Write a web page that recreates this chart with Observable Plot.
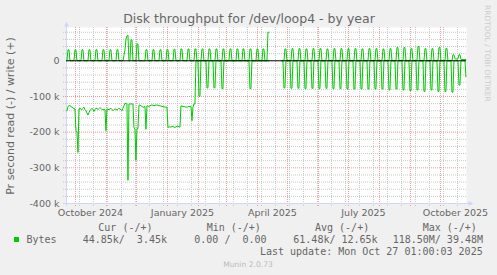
<!DOCTYPE html>
<html>
<head>
<meta charset="utf-8">
<script src="https://cdn.jsdelivr.net/npm/d3@7"></script>
<script src="https://cdn.jsdelivr.net/npm/@observablehq/plot@0.6"></script>
<style>
  html, body { margin: 0; padding: 0; background: #f0f0f0; }
  #wrap { position: relative; width: 497px; height: 275px; background: #f0f0f0; overflow: hidden; }
  #wrap > svg { position: absolute; left: 0; top: 0; }
</style>
</head>
<body>
<div id="wrap"></div>
<script>
// ---- data (daily values, kB/s) ----
const firstDay = "2024-09-22T12:00:00Z";          // day 0
const domainStart = "2024-09-22T01:00:00Z";
const domainEnd = "2025-10-27T01:00:00Z";

// write (+), one value per day, null = no data
const writeK = [
  0,31,31,0,0,0,0,
  0,31,31,0,0,0,0,
  0,31,31,0,0,0,0,
  0,31,31,0,0,0,0,
  0,31,31,0,0,0,0,
  0,31,31,0,0,0,0,
  0,31,31,0,0,0,0,
  0,31,31,0,0,0,0,
  0,15,30,61,70,72,0,
  0,59,59,0,0,0,0,
  47,47,0,0,0,0,0,
  0,0,31,31,0,0,0,
  0,0,31,31,0,0,0,
  0,0,31,31,0,0,0,
  0,0,32,32,0,0,0,
  0,0,32,32,0,0,0,
  0,0,33,33,0,0,0,
  0,0,33,33,0,0,0,
  0,0,33,33,0,0,0,
  0,0,33,33,0,0,0,
  0,0,33,33,0,0,0,
  0,0,33,33,0,0,0,
  0,0,33,33,0,0,0,
  0,0,33,33,0,0,0,
  0,0,33,33,0,0,0,
  0,33,33,0,0,0,0,
  0,33,33,0,0,0,0,
  0,33,33,0,0,0,0,
  33,33,0,0,0,80,80,
  null,null,null,null,null,null,null,
  null,null,null,null,null,0,0,
  0,33,33,0,0,0,0,
  0,34,34,0,0,0,0,
  0,34,34,0,0,0,0,
  0,33,33,0,0,0,0,
  0,34,34,0,0,0,0,
  0,34,34,0,0,0,0,
  0,33,33,0,0,0,0,
  0,34,34,0,0,0,0,
  0,34,34,0,0,0,0,
  0,34,34,0,0,0,0,
  0,34,34,0,0,0,0,
  0,33,33,0,0,0,0,
  0,34,34,0,0,0,0,
  0,34,34,0,0,0,0,
  0,33,33,0,0,0,0,
  0,34,34,0,0,0,0,
  0,37,37,0,0,0,0,
  0,37,37,0,0,0,0,
  0,34,34,0,0,0,0,
  0,40,40,0,0,0,0,
  0,34,34,0,0,0,0,
  0,34,34,0,0,0,0,
  0,37,37,0,0,0,0,
  0,35,35,0,0,0,0,
  0,17,17,6,5,5,6,
  17,17,4,3.5,3.5,3.5,3.5,
  3.45
];

// read (-), one value per day (magnitude), null = no data
const readK = [
  140,128,126,126,128,130,132,
  134,135,196,200,257,135,133,
  135,137,133,130,137,140,146,
  152,145,140,136,133,137,142,
  137,133,133,137,134,131,134,
  137,137,137,137,196,135,136,
  137,135,133,136,140,137,135,
  136,138,136,133,135,137,140,
  133,126,119,120,121,335,121,
  121,121,121,121,188,192,279,
  190,190,125,124,126,128,130,
  130,128,192,126,127,128,126,
  125,124,125,126,125,124,124,
  125,126,126,127,128,128,129,
  130,130,130,186,186,185,186,
  184,184,186,187,185,184,183,
  185,186,126,127,128,128,129,
  130,130,129,128,128,128,168,
  130,121,121,0,0,0,100,
  100,0,0,0,0,0,0,
  76,76,0,0,0,0,0,
  76,76,0,0,0,0,0,
  0,78,78,0,0,0,0,
  0,0,0,0,0,0,0,
  0,0,0,0,0,0,0,
  0,0,0,0,0,0,0,
  0,78,78,0,0,0,0,
  0,0,0,0,0,0,0,
  0,0,0,0,0,0,0,
  null,null,null,null,null,null,null,
  null,null,null,null,null,0,0,
  76,76,0,0,0,0,0,
  77,77,0,0,0,0,0,
  77,77,0,0,0,0,0,
  78,78,0,0,0,0,0,
  77,77,0,0,0,0,0,
  78,78,0,0,0,0,0,
  77,77,0,0,0,0,0,
  78,78,0,0,0,0,0,
  78,78,0,0,0,0,0,
  79,79,0,0,0,0,0,
  79,79,0,0,0,0,0,
  79,79,0,0,0,0,0,
  79,79,0,0,0,0,0,
  79,79,0,0,0,0,0,
  79,79,0,0,0,0,0,
  82,82,0,0,0,0,0,
  79,79,0,0,0,0,0,
  82,82,0,0,0,0,0,
  84,84,0,0,0,0,0,
  82,82,0,0,0,0,0,
  86,86,0,0,0,0,0,
  82,82,0,0,0,0,0,
  86,86,0,0,0,0,0,
  86,86,0,0,0,0,0,
  88,88,0,0,0,0,0,
  68,68,0,0,0,0,0,
  44.85
];

// ---- axes / grid definitions ----
const yTicksK = [0, -100, -200, -300, -400];
const yTickLabels = ["0", "-100 k", "-200 k", "-300 k", "-400 k"];
const yMajorK = [-400, -300, -200, -100];
const yMinorK = [-380,-360,-340,-320,-280,-260,-240,-220,-180,-160,-140,-120,-80,-60,-40,-20,20,40,60,80];
const yTopK = 93.3;
const xTickDates = ["2024-10-16", "2025-01-16", "2025-04-16", "2025-07-16", "2025-10-16"];
const xTickLabels = ["October 2024", "January 2025", "April 2025", "July 2025", "October 2025"];
const xMajorDates = ["2024-10-01","2024-11-01","2024-12-01","2025-01-01","2025-02-01","2025-03-01","2025-04-01",
  "2025-05-01","2025-06-01","2025-07-01","2025-08-01","2025-09-01","2025-10-01"];
const xMinorDates = ["2024-10-05","2024-10-19","2024-11-02","2024-11-16","2024-11-30","2024-12-14","2024-12-28",
  "2025-01-11","2025-01-25","2025-02-08","2025-02-22","2025-03-08","2025-03-22","2025-04-05","2025-04-19",
  "2025-05-03","2025-05-17","2025-05-31","2025-06-14","2025-06-28","2025-07-12","2025-07-26","2025-08-09",
  "2025-08-23","2025-09-06","2025-09-20","2025-10-04","2025-10-18"];

// ---- texts ----
const titleText = "Disk throughput for /dev/loop4 - by year";
const yLabelText = "Pr second read (-) / write (+)";
const watermarkText = "RRDTOOL / TOBI OETIKER";
const legendHeaders = ["Cur (-/+)", "Min (-/+)", "Avg (-/+)", "Max (-/+)"];
const legendName = "Bytes";
const legendValues = ["44.85k/  3.45k", "0.00 /  0.00", "61.48k/ 12.65k", "118.50M/ 39.48M"];
const lastUpdate = "Last update: Mon Oct 27 01:00:03 2025";
const footer = "Munin 2.0.73";

// ---- build ----
const t0 = new Date(firstDay).getTime();
const rows = writeK.map((w, i) => ({
  date: new Date(t0 + i * 86400000),
  write: w == null ? null : w * 1000,
  read: readK[i] == null ? null : -readK[i] * 1000
}));
const toDate = (s) => new Date(s + "T00:00:00Z");
const xLabelMap = new Map(xTickDates.map((d, i) => [+toDate(d), xTickLabels[i]]));
const yLabelMap = new Map(yTicksK.map((v, i) => [v * 1000, yTickLabels[i]]));

const GREEN = "#00cc00", AXIS = "#cfd6f8", GRID = "#c8c8c8", MGRID = "#e69c9c", FONT = "#666666";

const chart = Plot.plot({
  width: 497,
  height: 275,
  marginLeft: 66,
  marginRight: 31,
  marginTop: 27,
  marginBottom: 72,
  style: { background: "transparent", fontFamily: "DejaVu Sans", fontSize: "9.5px", color: FONT },
  x: { type: "utc", domain: [new Date(domainStart), new Date(domainEnd)], label: null },
  y: { domain: [-400000, yTopK * 1000], label: null },
  marks: [
    Plot.frame({ fill: "white", stroke: "none" }),
    Plot.ruleY(yMinorK.map(v => v * 1000), { stroke: GRID, strokeDasharray: "1,1", insetLeft: -3 }),
    Plot.ruleX(xMinorDates.map(toDate), { stroke: GRID, strokeDasharray: "1,1", insetBottom: -3 }),
    Plot.ruleY(yMajorK.map(v => v * 1000), { stroke: MGRID, strokeDasharray: "1,1", insetLeft: -3 }),
    Plot.ruleX(xMajorDates.map(toDate), { stroke: MGRID, strokeDasharray: "1,1", insetBottom: -3 }),
    Plot.ruleX([new Date(domainStart)], { stroke: AXIS, insetTop: -2, insetBottom: -3 }),
    Plot.ruleY([-400000], { stroke: AXIS, insetLeft: -3, insetRight: -3 }),
    Plot.line(rows, { x: "date", y: "write", stroke: GREEN, strokeWidth: 1 }),
    Plot.line(rows, { x: "date", y: "read", stroke: GREEN, strokeWidth: 1 }),
    Plot.ruleY([0], { stroke: "#000000", strokeWidth: 1 }),
    Plot.axisY({ ticks: yTicksK.map(v => v * 1000), tickFormat: d => yLabelMap.get(d), tickSize: 0, tickPadding: 7, fontSize: 9.5, fill: FONT }),
    Plot.axisX({ ticks: xTickDates.map(toDate), tickFormat: d => xLabelMap.get(+d), tickSize: 0, tickPadding: 6, fontSize: 9.5, fill: FONT })
  ]
});
document.getElementById("wrap").appendChild(chart);

// overlay: title, labels, legend, arrows
const ov = d3.select("#wrap").append("svg")
  .attr("width", 497).attr("height", 275)
  .attr("font-family", "DejaVu Sans");

ov.append("polygon").attr("points", "64,26.5 69,26.5 66.5,21.5").attr("fill", AXIS);
ov.append("polygon").attr("points", "468.5,201 468.5,206 473.5,203.5").attr("fill", AXIS);

ov.append("text").attr("x", 249).attr("y", 23).attr("text-anchor", "middle")
  .attr("font-size", 12.5).attr("fill", FONT).text(titleText);
ov.append("text").attr("transform", "translate(14,116) rotate(-90)").attr("text-anchor", "middle")
  .attr("font-size", 11).attr("fill", FONT).text(yLabelText);
ov.append("text").attr("transform", "translate(485,5) rotate(90)")
  .attr("font-size", 7.5).attr("fill", "#cccccc").text(watermarkText);

const keep = (s) => s.replace(/ /g, "\u00a0");
const mono = ov.append("g").attr("font-family", "DejaVu Sans Mono").attr("font-size", 10).attr("fill", FONT);
const headerX = [98.3, 206.7, 315, 422.7];
legendHeaders.forEach((h, i) => mono.append("text").attr("x", headerX[i]).attr("y", 231).text(keep(h)));
ov.append("rect").attr("x", 14).attr("y", 237).attr("width", 5).attr("height", 5).attr("fill", GREEN);
mono.append("text").attr("x", 26.5).attr("y", 243).text(legendName);
const valueX = [82.7, 194.3, 293.3, 392.7];
legendValues.forEach((v, i) => mono.append("text").attr("x", valueX[i]).attr("y", 243).text(keep(v)));
mono.append("text").attr("x", 482.7).attr("y", 254.5).attr("text-anchor", "end").text(keep(lastUpdate));

ov.append("text").attr("x", 248).attr("y", 266.7).attr("text-anchor", "middle")
  .attr("font-size", 7.6).attr("fill", "#bbbbbb").text(footer);
</script>
</body>
</html>
